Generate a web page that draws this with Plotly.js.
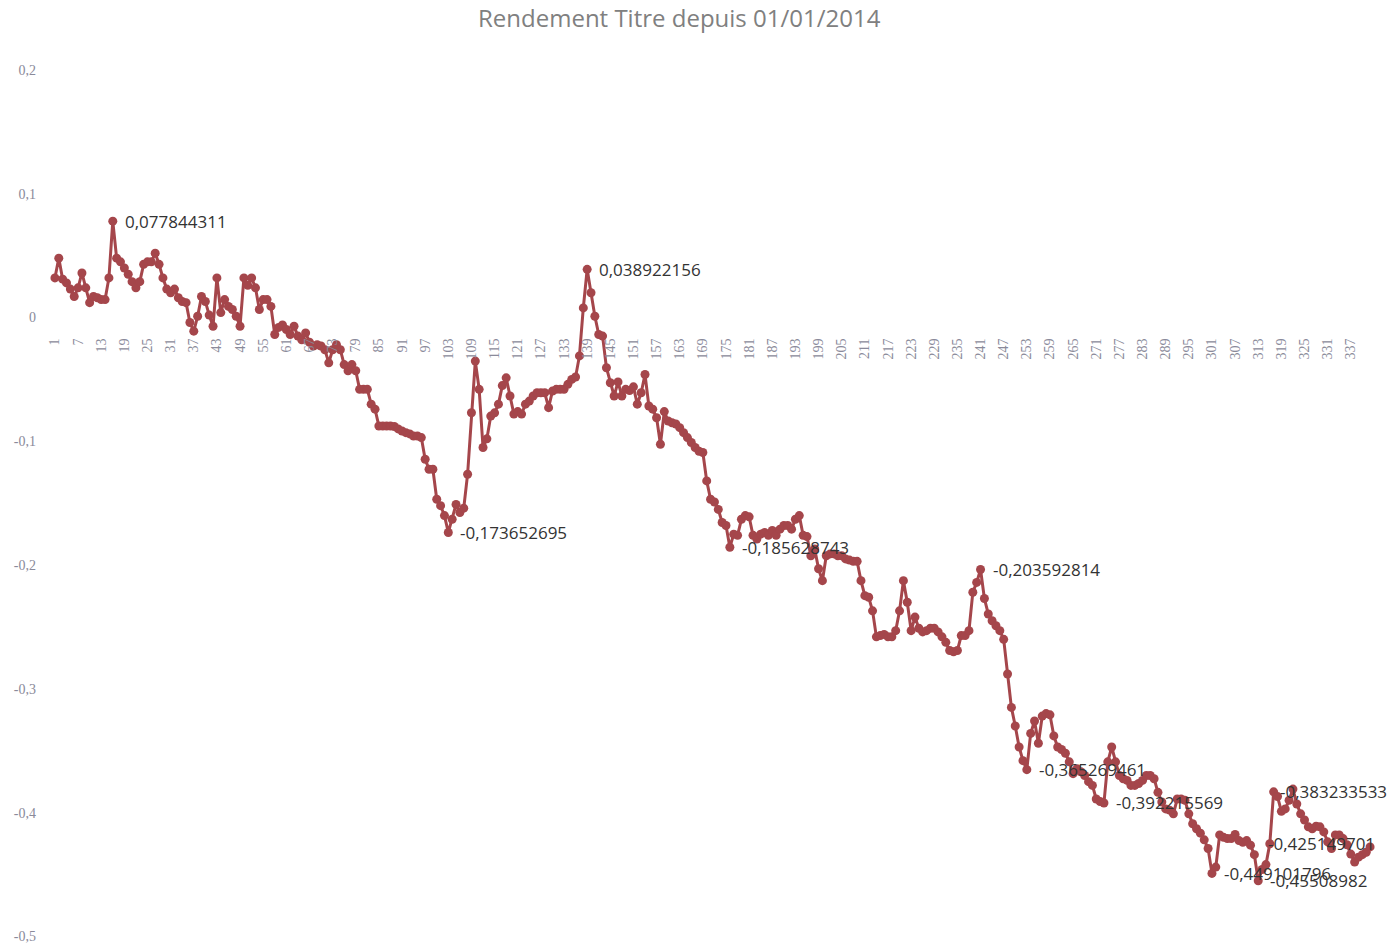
<!DOCTYPE html>
<html>
<head>
<meta charset="utf-8">
<script src="https://cdn.plot.ly/plotly-3.0.1.min.js"></script>
<style>html,body{margin:0;padding:0;background:#fff;}#chart{width:1389px;height:944px;}</style>
</head>
<body>
<div id="chart"></div>
<script>
// Daily return series (index 1..342)
const returns = [
  0.032, 0.048, 0.031, 0.028, 0.023, 0.017, 0.024, 0.036, 0.024, 0.012,
  0.017, 0.016, 0.0145, 0.0145, 0.032, 0.077844311, 0.048, 0.045, 0.040, 0.035,
  0.029, 0.024, 0.029, 0.043, 0.045, 0.045, 0.052, 0.043, 0.032, 0.023,
  0.020, 0.023, 0.016, 0.013, 0.012, -0.004, -0.011, 0.001, 0.017, 0.013,
  0.002, -0.007, 0.032, 0.004, 0.0145, 0.009, 0.0065, 0.001, -0.007, 0.032,
  0.026, 0.032, 0.024, 0.0065, 0.0145, 0.0145, 0.009, -0.0137, -0.008, -0.006,
  -0.0097, -0.0137, -0.007, -0.015, -0.018, -0.0124, -0.020, -0.023, -0.022, -0.023,
  -0.026, -0.0366, -0.026, -0.022, -0.026, -0.038, -0.043, -0.038, -0.043, -0.058,
  -0.058, -0.058, -0.070, -0.074, -0.0876, -0.0876, -0.0876, -0.0876, -0.088, -0.090,
  -0.0917, -0.093, -0.094, -0.0957, -0.0957, -0.097, -0.1145, -0.1226, -0.1226, -0.1468,
  -0.152, -0.160, -0.173652695, -0.163, -0.151, -0.1575, -0.154, -0.1266, -0.0769, -0.0352,
  -0.058, -0.105, -0.098, -0.0796, -0.077, -0.070, -0.055, -0.0487, -0.0634, -0.078,
  -0.076, -0.078, -0.070, -0.0675, -0.0634, -0.0608, -0.0608, -0.0608, -0.0728, -0.0594,
  -0.058, -0.058, -0.058, -0.054, -0.050, -0.048, -0.031, 0.0078, 0.038922156, 0.020,
  0.001, -0.0137, -0.015, -0.0406, -0.0527, -0.0634, -0.052, -0.0634, -0.058, -0.059,
  -0.056, -0.070, -0.0608, -0.046, -0.0715, -0.074, -0.081, -0.1024, -0.076, -0.0836,
  -0.085, -0.086, -0.089, -0.093, -0.097, -0.101, -0.105, -0.108, -0.109, -0.132,
  -0.1468, -0.149, -0.155, -0.1656, -0.168, -0.185628743, -0.175, -0.176, -0.163, -0.160,
  -0.161, -0.176, -0.179, -0.175, -0.1737, -0.176, -0.172, -0.176, -0.171, -0.168,
  -0.168, -0.171, -0.163, -0.160, -0.176, -0.177, -0.1925, -0.187, -0.203, -0.2126,
  -0.1925, -0.191, -0.191, -0.1925, -0.1925, -0.195, -0.196, -0.197, -0.197, -0.2126,
  -0.2247, -0.226, -0.237, -0.258, -0.257, -0.256, -0.258, -0.258, -0.253, -0.237,
  -0.2126, -0.230, -0.253, -0.242, -0.251, -0.254, -0.253, -0.251, -0.251, -0.254,
  -0.258, -0.2624, -0.269, -0.270, -0.269, -0.257, -0.257, -0.253, -0.222, -0.214,
  -0.203592814, -0.227, -0.2395, -0.245, -0.249, -0.253, -0.260, -0.288, -0.315, -0.330,
  -0.347, -0.358, -0.365269461, -0.336, -0.326, -0.344, -0.322, -0.320, -0.321, -0.338,
  -0.347, -0.349, -0.352, -0.359, -0.3685, -0.3645, -0.367, -0.370, -0.375, -0.378,
  -0.389, -0.391, -0.392215569, -0.359, -0.347, -0.359, -0.370, -0.3726, -0.374, -0.378,
  -0.378, -0.3765, -0.374, -0.370, -0.370, -0.3726, -0.3836, -0.3914, -0.397, -0.398,
  -0.401, -0.389, -0.389, -0.390, -0.401, -0.409, -0.413, -0.4166, -0.422, -0.429,
  -0.449101796, -0.444, -0.418, -0.420, -0.421, -0.421, -0.4177, -0.4226, -0.424, -0.4226,
  -0.4263, -0.434, -0.45508982, -0.446, -0.442, -0.425149701, -0.383233533, -0.387, -0.399, -0.397,
  -0.390, -0.381, -0.393, -0.401, -0.406, -0.4115, -0.413, -0.411, -0.4115, -0.4156,
  -0.4236, -0.429, -0.418, -0.418, -0.421, -0.426, -0.4335, -0.440, -0.436, -0.434,
  -0.432, -0.4277
];

// Category index (1..N)
const categories = returns.map((_, i) => i + 1);

// Points carrying a data label (category index)
const labelledPoints = [16, 139, 103, 176, 241, 253, 273, 301, 313, 316, 317];

// X tick labels (every 6th category)
const xTickVals = [1,7,13,19,25,31,37,43,49,55,61,67,73,79,85,91,97,103,109,115,121,127,133,139,145,151,157,163,169,175,181,187,193,199,205,211,217,223,229,235,241,247,253,259,265,271,277,283,289,295,301,307,313,319,325,331,337];
const xTickText = xTickVals.map(String);

// Y tick labels
const yTickVals = [0.2, 0.1, 0, -0.1, -0.2, -0.3, -0.4, -0.5];
const yTickText = ["0,2", "0,1", "0", "-0,1", "-0,2", "-0,3", "-0,4", "-0,5"];

const titleText = "Rendement Titre depuis 01/01/2014";

const yMin = -0.5, yMax = 0.2;
const lineColor = '#A5464B';

const trace = {
  x: categories,
  y: returns,
  type: 'scatter',
  mode: 'lines+markers',
  line: {color: lineColor, width: 3},
  marker: {color: lineColor, size: 9},
  cliponaxis: false,
  hoverinfo: 'x+y'
};

const annotations = labelledPoints.map(idx => ({
  x: idx,
  y: returns[idx - 1],
  xref: 'x', yref: 'y',
  text: String(returns[idx - 1]).replace('.', ','),
  showarrow: false,
  xanchor: 'left',
  yanchor: 'middle',
  xshift: idx === 316 ? -4 : (idx === 317 ? 4 : 10),
  font: {family: 'Open Sans, Liberation Sans, sans-serif', size: 17, color: '#333333'}
}));

const layout = {
  width: 1389,
  height: 944,
  paper_bgcolor: '#ffffff',
  plot_bgcolor: '#ffffff',
  margin: {l: 53, r: 17, t: 70, b: 7},
  showlegend: false,
  title: {
    text: titleText,
    x: 0.489, xref: 'container', xanchor: 'center',
    y: 1 - 19 / 944, yref: 'container', yanchor: 'middle',
    font: {family: 'Open Sans, Liberation Sans, sans-serif', size: 24, color: '#808080'}
  },
  xaxis: {
    type: 'linear',
    range: [0.5, categories.length + 0.5],
    tickmode: 'array',
    tickvals: xTickVals,
    ticktext: xTickText,
    tickangle: -90,
    ticks: '',
    showgrid: false,
    zeroline: false,
    showline: false,
    anchor: 'free',
    position: (0 - yMin) / (yMax - yMin),
    ticklabelstandoff: 17,
    tickfont: {family: 'Liberation Serif, DejaVu Serif, serif', size: 14, color: '#8a8a9a'}
  },
  yaxis: {
    range: [yMin - 0.0005, yMax],
    tickmode: 'array',
    tickvals: yTickVals,
    ticktext: yTickText,
    ticks: '',
    showgrid: false,
    zeroline: false,
    showline: false,
    ticklabelstandoff: 16,
    ticklabeloverflow: 'allow',
    automargin: false,
    tickfont: {family: 'Liberation Serif, DejaVu Serif, serif', size: 14, color: '#8a8a9a'}
  },
  annotations: annotations
};

Plotly.newPlot('chart', [trace], layout, {displayModeBar: false, staticPlot: true});
</script>
</body>
</html>
